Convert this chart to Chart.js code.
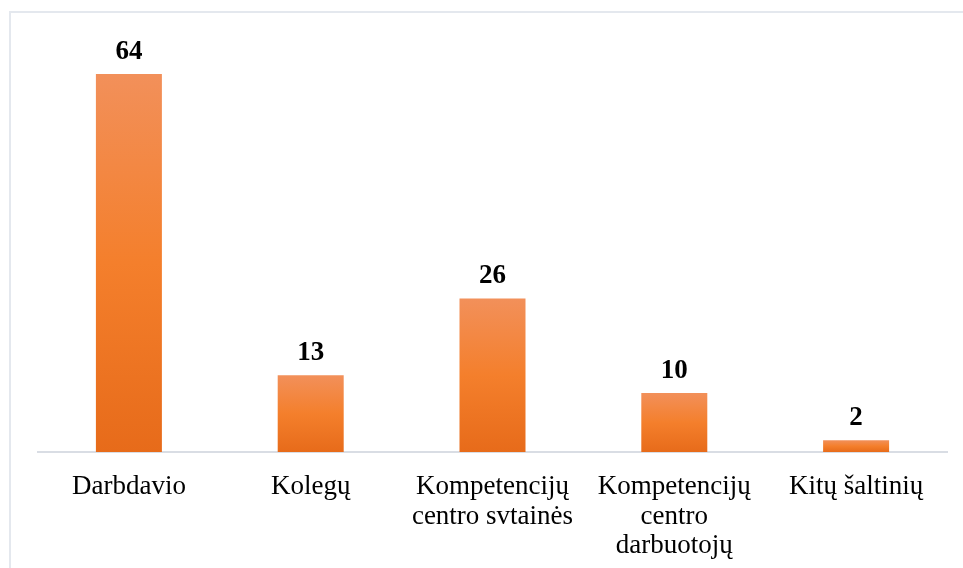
<!DOCTYPE html>
<html>
<head>
<meta charset="utf-8">
<script src="https://cdn.jsdelivr.net/npm/chart.js@4/dist/chart.umd.min.js"></script>
<style>
  html, body { margin: 0; padding: 0; background: #fff; overflow: hidden; }
  #wrap { position: relative; width: 963px; height: 568px; }
  #frame { position: absolute; left: 9px; top: 11px; width: 1000px; height: 1000px; border: 2px solid #e4e8ee; box-sizing: border-box; pointer-events: none; }
  canvas { position: absolute; left: 0; top: 0; }
</style>
</head>
<body>
<div id="wrap">
  <div id="frame"></div>
  <canvas id="c" width="963" height="568"></canvas>
</div>
<script>
const categories = [
  'Darbdavio',
  'Kolegų',
  ['Kompetencijų', 'centro svtainės'],
  ['Kompetencijų', 'centro', 'darbuotojų'],
  'Kitų šaltinių'
];
const values = [64, 13, 26, 10, 2];
const yMin = 0;
const yMax = 70;

const serif = '"Liberation Serif", "Times New Roman", serif';

function barGradient(ctx) {
  const chart = ctx.chart;
  const ys = chart.scales && chart.scales.y;
  if (!ys || ctx.raw === undefined) return '#f47f2c';
  const top = ys.getPixelForValue(ctx.raw);
  const base = ys.getPixelForValue(0);
  if (!isFinite(top) || !isFinite(base) || top === base) return '#f47f2c';
  const g = chart.ctx.createLinearGradient(0, top, 0, base);
  g.addColorStop(0, '#f2905a');
  g.addColorStop(0.5, '#f47f2c');
  g.addColorStop(1, '#e76b1a');
  return g;
}

const valueLabels = {
  id: 'valueLabels',
  afterDatasetsDraw(chart) {
    const ctx = chart.ctx;
    const meta = chart.getDatasetMeta(0);
    ctx.save();
    ctx.font = 'bold 27px ' + serif;
    ctx.fillStyle = '#000';
    ctx.textAlign = 'center';
    ctx.textBaseline = 'alphabetic';
    meta.data.forEach((el, i) => {
      ctx.fillText(String(values[i]), el.x, el.y - 15);
    });
    ctx.restore();
  }
};

new Chart(document.getElementById('c'), {
  type: 'bar',
  data: {
    labels: categories,
    datasets: [{
      data: values,
      backgroundColor: barGradient,
      borderWidth: 0,
      categoryPercentage: 1,
      barPercentage: 0.363
    }]
  },
  options: {
    responsive: false,
    devicePixelRatio: 1,
    animation: false,
    layout: { padding: { left: 38, right: 16, top: 38.6, bottom: 0 } },
    plugins: { legend: { display: false }, tooltip: { enabled: false } },
    scales: {
      x: {
        grid: { display: false, drawTicks: false },
        border: { display: true, color: '#d9dde4', width: 2 },
        ticks: {
          color: '#000',
          font: { family: serif, size: 27, lineHeight: 1.1 },
          padding: 20,
          maxRotation: 0,
          minRotation: 0,
          autoSkip: false
        },
        afterFit(scale) { scale.height = 116; }
      },
      y: {
        display: false,
        min: yMin,
        max: yMax
      }
    }
  },
  plugins: [valueLabels]
});
</script>
</body>
</html>
